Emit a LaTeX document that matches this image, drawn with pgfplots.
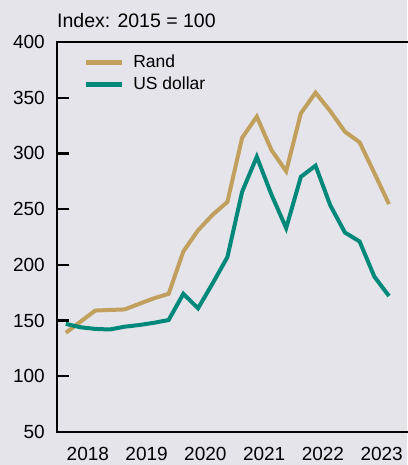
\documentclass[border=0pt]{standalone}
\usepackage{pgfplots}
\pgfplotsset{compat=1.18}
\usepackage{fontspec}
\setmainfont{Liberation Sans}
\definecolor{bg}{RGB}{228,228,234}
\definecolor{randc}{RGB}{192,160,92}
\definecolor{usdc}{RGB}{0,137,122}
\begin{document}
\begin{tikzpicture}[x=1pt,y=1pt]
\path[fill=bg, use as bounding box] (0,0) rectangle (407,465);
\node[anchor=base west, inner sep=0pt, font=\fontsize{19.5}{22}\selectfont] at (57,437.7) {Index: 2015 = 100};
\begin{axis}[
  at={(57pt,33pt)}, anchor=south west,
  scale only axis, width=353pt, height=390pt,
  xmin=-0.6, xmax=23.43, ymin=50, ymax=400,
  axis line style={line width=2.4pt, black},
  xtick pos=bottom, ytick pos=left,
  tick align=inside,
  /pgf/number format/assume math mode=true,
  ytick={50,100,...,400},
  xtick=\empty,
  minor xtick={3.5,7.5,11.5,15.5,19.5},
  extra x ticks={1.5,5.5,9.5,13.5,17.5,21.5},
  extra x tick labels={2018,2019,2020,2021,2022,2023},
  extra x tick style={major tick length=0pt},
  major tick length=12pt,
  minor tick length=9pt,
  tick style={black, line width=2.4pt},
  yticklabel style={font=\fontsize{19}{21}\selectfont, anchor=east, inner sep=0pt, xshift=-12pt},
  xticklabel style={font=\fontsize{19}{21}\selectfont, anchor=north, inner sep=0pt, yshift=-15pt},
  legend style={at={(0.074,0.967)}, anchor=north west, draw=none, fill=none, inner sep=0pt,
    font=\fontsize{17.5}{19}\selectfont, row sep=8pt, column sep=9pt, nodes={inner sep=0pt}},
  legend cell align=left,
  legend image code/.code={\draw[#1, line width=5pt] (0pt,0pt) -- (36pt,0pt);},
]
\addplot[randc, line width=4pt] coordinates {
(0,139) (1,149) (2,159) (3,159.5) (4,160) (5,165) (6,170) (7,174)
(8,212) (9,231) (10,245) (11,256.5) (12,314) (13,333) (14,303) (15,284)
(16,336) (17,354.5) (18,338) (19,319.5) (20,310) (21,282.5) (22,254.5)};
\addlegendentry{Rand}
\addplot[usdc, line width=4pt] coordinates {
(0,147) (1,144) (2,142.5) (3,142) (4,144.5) (5,146) (6,148) (7,150.5)
(8,174) (9,161) (10,183.5) (11,207) (12,265.5) (13,297) (14,263) (15,233)
(16,279) (17,289) (18,253.5) (19,229) (20,221) (21,189.5) (22,172)};
\addlegendentry{US dollar}
\end{axis}
\end{tikzpicture}
\end{document}
